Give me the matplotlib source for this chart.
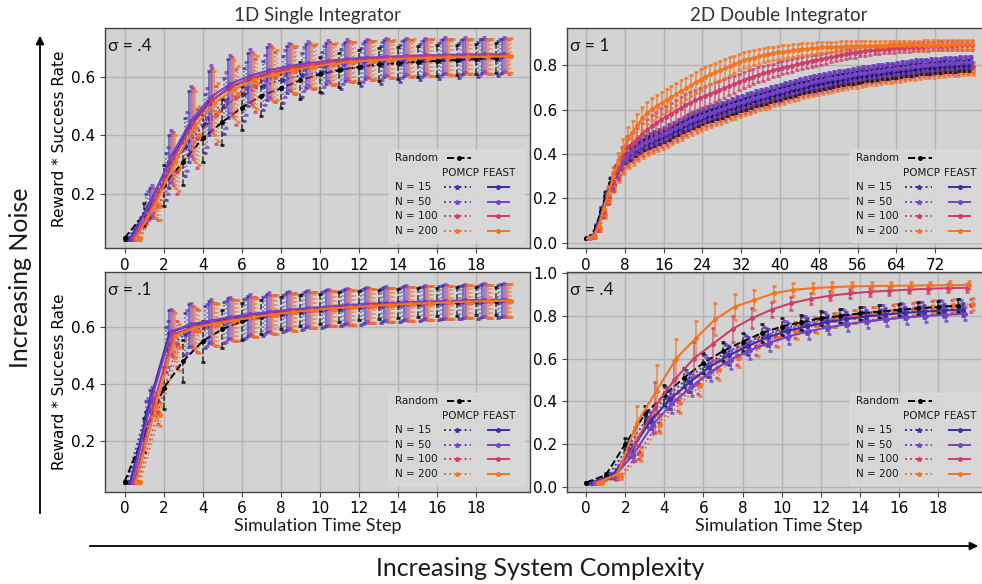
import numpy as np
import matplotlib
matplotlib.use("Agg")
import matplotlib.pyplot as plt
from matplotlib.patches import FancyArrowPatch
from matplotlib.offsetbox import DrawingArea, AnchoredOffsetbox
from matplotlib.lines import Line2D
from matplotlib.text import Text

# ── time axes ────────────────────────────────────────────────────────────────
STEPS_SHORT = np.arange(20)
STEPS_LONG = np.arange(80)
N_VALUES = [15, 50, 100, 200]

# ── 1D single integrator, sigma = .4 ─────────────────────────────────────────
si04_random = [0.05, 0.13, 0.23, 0.31, 0.39, 0.445, 0.495, 0.535, 0.56, 0.588,
               0.608, 0.622, 0.634, 0.642, 0.647, 0.651, 0.654, 0.657, 0.66, 0.663]
si04_pomcp = {
    15:  [0.05, 0.15, 0.26, 0.36, 0.44, 0.50, 0.54, 0.57, 0.59, 0.605,
          0.615, 0.625, 0.633, 0.64, 0.645, 0.65, 0.653, 0.656, 0.659, 0.661],
    50:  [0.05, 0.16, 0.28, 0.38, 0.46, 0.52, 0.56, 0.59, 0.61, 0.625,
          0.635, 0.643, 0.649, 0.654, 0.658, 0.661, 0.663, 0.665, 0.667, 0.668],
    100: [0.05, 0.16, 0.28, 0.39, 0.47, 0.53, 0.57, 0.60, 0.62, 0.633,
          0.642, 0.65, 0.655, 0.659, 0.662, 0.665, 0.667, 0.668, 0.669, 0.67],
    200: [0.05, 0.16, 0.29, 0.40, 0.48, 0.54, 0.58, 0.605, 0.623, 0.636,
          0.645, 0.652, 0.657, 0.661, 0.664, 0.666, 0.668, 0.669, 0.67, 0.671],
}
si04_feast = {
    15:  [0.05, 0.17, 0.31, 0.43, 0.51, 0.56, 0.59, 0.61, 0.625, 0.636,
          0.645, 0.652, 0.657, 0.661, 0.664, 0.666, 0.668, 0.669, 0.67, 0.671],
    50:  [0.05, 0.18, 0.33, 0.45, 0.53, 0.575, 0.603, 0.622, 0.636, 0.646,
          0.654, 0.66, 0.665, 0.668, 0.671, 0.673, 0.674, 0.675, 0.676, 0.677],
    100: [0.05, 0.17, 0.32, 0.44, 0.52, 0.566, 0.595, 0.615, 0.63, 0.641,
          0.649, 0.655, 0.66, 0.664, 0.667, 0.669, 0.67, 0.671, 0.672, 0.673],
    200: [0.05, 0.17, 0.31, 0.43, 0.51, 0.558, 0.588, 0.608, 0.623, 0.634,
          0.643, 0.65, 0.655, 0.659, 0.662, 0.664, 0.666, 0.667, 0.668, 0.669],
}
si04_err_random = [0.005, 0.04, 0.07, 0.08, 0.08, 0.078, 0.075, 0.07, 0.066, 0.063,
                   0.06, 0.058, 0.056, 0.055, 0.054, 0.053, 0.053, 0.052, 0.052, 0.052]
si04_err_pomcp = [0.005, 0.05, 0.08, 0.1, 0.1, 0.095, 0.09, 0.085, 0.08, 0.075,
                  0.07, 0.068, 0.066, 0.064, 0.063, 0.062, 0.061, 0.06, 0.06, 0.06]
si04_err_feast = [0.005, 0.05, 0.09, 0.12, 0.11, 0.1, 0.09, 0.09, 0.08, 0.075,
                  0.07, 0.068, 0.065, 0.063, 0.062, 0.06, 0.06, 0.059, 0.058, 0.058]

# ── 1D single integrator, sigma = .1 ─────────────────────────────────────────
si01_random = [0.055, 0.22, 0.385, 0.48, 0.55, 0.593, 0.62, 0.636, 0.649, 0.658,
               0.665, 0.671, 0.676, 0.68, 0.683, 0.686, 0.688, 0.69, 0.691, 0.692]
si01_pomcp = {
    15:  [0.055, 0.3, 0.52, 0.575, 0.6, 0.616, 0.628, 0.638, 0.647, 0.654,
          0.66, 0.665, 0.67, 0.674, 0.678, 0.681, 0.684, 0.686, 0.688, 0.69],
    50:  [0.055, 0.31, 0.54, 0.585, 0.607, 0.621, 0.633, 0.643, 0.651, 0.658,
          0.664, 0.669, 0.673, 0.677, 0.68, 0.683, 0.686, 0.688, 0.69, 0.692],
    100: [0.055, 0.3, 0.54, 0.588, 0.609, 0.623, 0.635, 0.645, 0.653, 0.66,
          0.665, 0.67, 0.674, 0.678, 0.681, 0.684, 0.687, 0.689, 0.691, 0.693],
    200: [0.055, 0.29, 0.53, 0.585, 0.607, 0.622, 0.634, 0.644, 0.652, 0.659,
          0.665, 0.67, 0.674, 0.678, 0.681, 0.684, 0.687, 0.689, 0.691, 0.693],
}
si01_feast = {
    15:  [0.055, 0.34, 0.58, 0.605, 0.618, 0.63, 0.64, 0.65, 0.657, 0.663,
          0.668, 0.673, 0.677, 0.681, 0.684, 0.687, 0.689, 0.691, 0.693, 0.695],
    50:  [0.055, 0.35, 0.585, 0.61, 0.623, 0.635, 0.645, 0.654, 0.661, 0.667,
          0.672, 0.677, 0.681, 0.684, 0.687, 0.69, 0.692, 0.694, 0.696, 0.697],
    100: [0.055, 0.33, 0.575, 0.6, 0.614, 0.626, 0.637, 0.646, 0.654, 0.66,
          0.666, 0.671, 0.675, 0.679, 0.682, 0.685, 0.688, 0.69, 0.692, 0.694],
    200: [0.055, 0.32, 0.57, 0.597, 0.611, 0.623, 0.634, 0.644, 0.652, 0.659,
          0.665, 0.67, 0.674, 0.678, 0.681, 0.684, 0.687, 0.689, 0.691, 0.693],
}
si01_err_random = [0.003, 0.06, 0.075, 0.075, 0.072, 0.068, 0.065, 0.06, 0.057, 0.055,
                   0.053, 0.052, 0.051, 0.05, 0.05, 0.05, 0.05, 0.05, 0.05, 0.05]
si01_err_pomcp = [0.003, 0.04, 0.08, 0.075, 0.075, 0.072, 0.07, 0.068, 0.066, 0.064,
                  0.063, 0.062, 0.061, 0.06, 0.06, 0.059, 0.059, 0.058, 0.058, 0.058]
si01_err_feast = [0.003, 0.04, 0.08, 0.075, 0.075, 0.072, 0.07, 0.068, 0.066, 0.064,
                  0.063, 0.062, 0.061, 0.06, 0.06, 0.059, 0.059, 0.058, 0.058, 0.058]

# ── 2D double integrator, sigma = 1 (80 steps) ───────────────────────────────
di1_random = [
    0.02, 0.03, 0.07, 0.14, 0.21, 0.27, 0.318, 0.357, 0.385, 0.4,
    0.415, 0.43, 0.443, 0.453, 0.462, 0.471, 0.48, 0.491, 0.502, 0.513,
    0.524, 0.533, 0.543, 0.552, 0.561, 0.569, 0.576, 0.583, 0.59, 0.598,
    0.605, 0.612, 0.619, 0.626, 0.633, 0.64, 0.646, 0.652, 0.658, 0.664,
    0.67, 0.676, 0.682, 0.688, 0.693, 0.698, 0.704, 0.709, 0.714, 0.718,
    0.722, 0.726, 0.73, 0.734, 0.738, 0.741, 0.745, 0.748, 0.751, 0.754,
    0.757, 0.76, 0.763, 0.765, 0.768, 0.771, 0.774, 0.777, 0.78, 0.782,
    0.784, 0.785, 0.787, 0.789, 0.79, 0.792, 0.793, 0.795, 0.796, 0.798]
di1_pomcp = {
    15: [0.02, 0.03, 0.075, 0.145, 0.215, 0.275, 0.325, 0.366, 0.398, 0.415,
         0.432, 0.447, 0.46, 0.47, 0.479, 0.488, 0.497, 0.509, 0.52, 0.531,
         0.542, 0.552, 0.562, 0.571, 0.58, 0.588, 0.595, 0.603, 0.61, 0.618,
         0.625, 0.633, 0.64, 0.647, 0.654, 0.661, 0.667, 0.673, 0.68, 0.686,
         0.692, 0.698, 0.704, 0.71, 0.715, 0.72, 0.726, 0.731, 0.736, 0.74,
         0.744, 0.748, 0.752, 0.756, 0.76, 0.763, 0.767, 0.77, 0.773, 0.776,
         0.779, 0.782, 0.785, 0.787, 0.79, 0.793, 0.796, 0.799, 0.802, 0.804,
         0.806, 0.807, 0.809, 0.811, 0.812, 0.814, 0.815, 0.817, 0.818, 0.82],
    50: [0.02, 0.03, 0.072, 0.143, 0.213, 0.273, 0.323, 0.364, 0.395, 0.411,
         0.426, 0.441, 0.454, 0.464, 0.473, 0.482, 0.491, 0.503, 0.514, 0.525,
         0.536, 0.546, 0.556, 0.565, 0.574, 0.582, 0.589, 0.597, 0.604, 0.612,
         0.619, 0.627, 0.634, 0.641, 0.648, 0.655, 0.661, 0.667, 0.674, 0.68,
         0.686, 0.692, 0.698, 0.704, 0.709, 0.714, 0.72, 0.725, 0.73, 0.734,
         0.738, 0.742, 0.746, 0.75, 0.754, 0.757, 0.761, 0.764, 0.767, 0.77,
         0.773, 0.776, 0.779, 0.781, 0.784, 0.787, 0.79, 0.793, 0.796, 0.798,
         0.8, 0.801, 0.803, 0.805, 0.806, 0.808, 0.809, 0.811, 0.812, 0.814],
    100: [0.02, 0.028, 0.065, 0.132, 0.2, 0.258, 0.305, 0.344, 0.373, 0.388,
          0.402, 0.417, 0.43, 0.44, 0.449, 0.458, 0.467, 0.479, 0.49, 0.501,
          0.512, 0.522, 0.532, 0.541, 0.55, 0.558, 0.565, 0.573, 0.58, 0.588,
          0.595, 0.603, 0.61, 0.617, 0.624, 0.631, 0.637, 0.643, 0.65, 0.656,
          0.662, 0.668, 0.674, 0.68, 0.685, 0.69, 0.696, 0.701, 0.706, 0.71,
          0.714, 0.718, 0.722, 0.726, 0.73, 0.733, 0.737, 0.74, 0.743, 0.746,
          0.749, 0.752, 0.755, 0.757, 0.76, 0.763, 0.766, 0.769, 0.772, 0.774,
          0.776, 0.777, 0.779, 0.781, 0.782, 0.784, 0.785, 0.787, 0.788, 0.79],
    200: [0.02, 0.027, 0.062, 0.127, 0.193, 0.25, 0.297, 0.335, 0.364, 0.378,
          0.392, 0.407, 0.42, 0.43, 0.439, 0.448, 0.457, 0.469, 0.48, 0.491,
          0.502, 0.512, 0.522, 0.531, 0.54, 0.548, 0.555, 0.563, 0.57, 0.578,
          0.585, 0.593, 0.6, 0.607, 0.614, 0.621, 0.627, 0.633, 0.64, 0.646,
          0.652, 0.658, 0.664, 0.67, 0.675, 0.68, 0.686, 0.691, 0.696, 0.7,
          0.704, 0.708, 0.712, 0.716, 0.72, 0.723, 0.727, 0.73, 0.733, 0.736,
          0.739, 0.742, 0.745, 0.747, 0.75, 0.753, 0.756, 0.759, 0.762, 0.764,
          0.766, 0.767, 0.769, 0.771, 0.772, 0.774, 0.775, 0.777, 0.778, 0.78],
}
di1_feast = {
    15: [0.02, 0.03, 0.07, 0.14, 0.21, 0.27, 0.32, 0.36, 0.39, 0.405,
         0.42, 0.435, 0.448, 0.458, 0.467, 0.476, 0.485, 0.497, 0.508, 0.519,
         0.53, 0.54, 0.55, 0.559, 0.568, 0.576, 0.583, 0.591, 0.598, 0.606,
         0.613, 0.621, 0.628, 0.635, 0.642, 0.649, 0.655, 0.661, 0.668, 0.674,
         0.68, 0.686, 0.692, 0.698, 0.703, 0.708, 0.714, 0.719, 0.724, 0.728,
         0.732, 0.736, 0.74, 0.744, 0.748, 0.751, 0.755, 0.758, 0.761, 0.764,
         0.767, 0.77, 0.773, 0.775, 0.778, 0.781, 0.784, 0.787, 0.79, 0.792,
         0.794, 0.795, 0.797, 0.799, 0.8, 0.802, 0.803, 0.805, 0.806, 0.808],
    50: [0.02, 0.03, 0.07, 0.14, 0.21, 0.27, 0.32, 0.36, 0.39, 0.41,
         0.425, 0.44, 0.454, 0.465, 0.475, 0.484, 0.493, 0.505, 0.516, 0.527,
         0.538, 0.548, 0.558, 0.567, 0.576, 0.584, 0.591, 0.599, 0.606, 0.614,
         0.621, 0.629, 0.636, 0.643, 0.65, 0.657, 0.663, 0.669, 0.676, 0.682,
         0.688, 0.694, 0.7, 0.706, 0.711, 0.716, 0.722, 0.727, 0.732, 0.736,
         0.74, 0.744, 0.748, 0.752, 0.756, 0.759, 0.763, 0.766, 0.769, 0.772,
         0.775, 0.778, 0.781, 0.783, 0.786, 0.789, 0.792, 0.795, 0.798, 0.8,
         0.802, 0.803, 0.805, 0.807, 0.808, 0.81, 0.811, 0.813, 0.814, 0.816],
    100: [0.02, 0.03, 0.07, 0.14, 0.21, 0.275, 0.33, 0.385, 0.43, 0.447,
          0.466, 0.49, 0.508, 0.524, 0.54, 0.555, 0.568, 0.581, 0.594, 0.607,
          0.62, 0.631, 0.641, 0.651, 0.661, 0.67, 0.679, 0.687, 0.695, 0.705,
          0.714, 0.724, 0.733, 0.741, 0.748, 0.756, 0.763, 0.769, 0.776, 0.782,
          0.788, 0.793, 0.798, 0.803, 0.808, 0.813, 0.818, 0.822, 0.827, 0.831,
          0.836, 0.84, 0.845, 0.849, 0.853, 0.856, 0.86, 0.863, 0.866, 0.868,
          0.871, 0.873, 0.875, 0.876, 0.878, 0.879, 0.88, 0.882, 0.883, 0.884,
          0.885, 0.886, 0.887, 0.887, 0.888, 0.888, 0.889, 0.889, 0.89, 0.89],
    200: [0.02, 0.03, 0.075, 0.15, 0.22, 0.3, 0.36, 0.42, 0.47, 0.5,
          0.53, 0.56, 0.585, 0.601, 0.617, 0.631, 0.643, 0.657, 0.67, 0.683,
          0.695, 0.709, 0.722, 0.735, 0.748, 0.758, 0.767, 0.776, 0.785, 0.795,
          0.804, 0.814, 0.823, 0.829, 0.834, 0.84, 0.845, 0.849, 0.853, 0.857,
          0.86, 0.863, 0.866, 0.869, 0.871, 0.873, 0.876, 0.878, 0.88, 0.881,
          0.882, 0.883, 0.884, 0.885, 0.885, 0.886, 0.886, 0.887, 0.887, 0.888,
          0.888, 0.888, 0.889, 0.889, 0.89, 0.89, 0.89, 0.891, 0.891, 0.892,
          0.892, 0.892, 0.893, 0.893, 0.893, 0.894, 0.894, 0.894, 0.895, 0.895],
}
# FEAST N=100/200 share the wide bars, the rest the narrow ones
di1_err_wide = [
    0.003, 0.005, 0.015, 0.025, 0.035, 0.04, 0.045, 0.048, 0.05, 0.05,
    0.05, 0.05, 0.05, 0.05, 0.05, 0.05, 0.05, 0.05, 0.05, 0.05,
    0.048, 0.048, 0.047, 0.046, 0.045, 0.044, 0.043, 0.042, 0.041, 0.04,
    0.039, 0.038, 0.037, 0.036, 0.035, 0.034, 0.033, 0.032, 0.031, 0.03,
    0.029, 0.028, 0.028, 0.027, 0.027, 0.026, 0.026, 0.025, 0.025, 0.024,
    0.024, 0.023, 0.023, 0.022, 0.022, 0.022, 0.021, 0.021, 0.021, 0.02,
    0.02, 0.02, 0.02, 0.02, 0.02, 0.02, 0.02, 0.02, 0.02, 0.02,
    0.02, 0.02, 0.02, 0.02, 0.02, 0.02, 0.02, 0.02, 0.02, 0.02]
di1_err_narrow = [
    0.003, 0.005, 0.01, 0.015, 0.02, 0.022, 0.024, 0.025, 0.026, 0.026,
    0.026, 0.026, 0.026, 0.026, 0.026, 0.026, 0.026, 0.026, 0.026, 0.026,
    0.026, 0.026, 0.026, 0.026, 0.026, 0.026, 0.026, 0.026, 0.026, 0.026,
    0.026, 0.026, 0.026, 0.026, 0.025, 0.025, 0.025, 0.025, 0.025, 0.025,
    0.025, 0.025, 0.025, 0.025, 0.025, 0.025, 0.025, 0.025, 0.025, 0.025,
    0.024, 0.024, 0.024, 0.024, 0.024, 0.024, 0.024, 0.024, 0.024, 0.024,
    0.024, 0.024, 0.024, 0.024, 0.024, 0.024, 0.024, 0.024, 0.024, 0.024,
    0.023, 0.023, 0.023, 0.023, 0.023, 0.023, 0.023, 0.023, 0.023, 0.023]

# ── 2D double integrator, sigma = .4 ─────────────────────────────────────────
di04_random = [0.02, 0.055, 0.2, 0.34, 0.43, 0.51, 0.58, 0.635, 0.68, 0.72,
               0.75, 0.77, 0.79, 0.80, 0.812, 0.82, 0.828, 0.836, 0.842, 0.848]
di04_pomcp = {
    15:  [0.02, 0.05, 0.18, 0.32, 0.42, 0.50, 0.57, 0.625, 0.67, 0.71,
          0.74, 0.765, 0.785, 0.80, 0.812, 0.822, 0.83, 0.837, 0.843, 0.848],
    50:  [0.02, 0.05, 0.17, 0.31, 0.41, 0.49, 0.56, 0.62, 0.665, 0.705,
          0.737, 0.762, 0.782, 0.798, 0.81, 0.82, 0.828, 0.835, 0.841, 0.846],
    100: [0.02, 0.045, 0.16, 0.30, 0.40, 0.48, 0.555, 0.615, 0.66, 0.70,
          0.735, 0.76, 0.78, 0.797, 0.81, 0.821, 0.83, 0.838, 0.845, 0.85],
    200: [0.02, 0.045, 0.15, 0.29, 0.39, 0.47, 0.545, 0.605, 0.655, 0.695,
          0.73, 0.758, 0.78, 0.798, 0.812, 0.824, 0.834, 0.843, 0.85, 0.856],
}
di04_feast = {
    15:  [0.02, 0.05, 0.17, 0.31, 0.41, 0.49, 0.56, 0.615, 0.66, 0.70,
          0.73, 0.752, 0.77, 0.785, 0.797, 0.806, 0.814, 0.82, 0.825, 0.83],
    50:  [0.02, 0.045, 0.15, 0.29, 0.39, 0.47, 0.54, 0.595, 0.64, 0.675,
          0.705, 0.728, 0.747, 0.762, 0.775, 0.785, 0.793, 0.8, 0.805, 0.81],
    100: [0.02, 0.05, 0.2, 0.37, 0.50, 0.60, 0.67, 0.74, 0.79, 0.83,
          0.86, 0.88, 0.895, 0.905, 0.913, 0.918, 0.923, 0.927, 0.93, 0.932],
    200: [0.02, 0.06, 0.3, 0.45, 0.6, 0.695, 0.784, 0.843, 0.874, 0.906,
          0.922, 0.93, 0.935, 0.938, 0.94, 0.941, 0.942, 0.943, 0.944, 0.945],
}
di04_err_wide = [0.005, 0.02, 0.08, 0.12, 0.09, 0.08, 0.075, 0.06, 0.045, 0.035,
                 0.03, 0.025, 0.022, 0.02, 0.02, 0.02, 0.018, 0.018, 0.018, 0.018]
di04_err_narrow = [0.003, 0.01, 0.03, 0.04, 0.045, 0.045, 0.045, 0.045, 0.042, 0.04,
                   0.038, 0.036, 0.034, 0.032, 0.03, 0.03, 0.03, 0.03, 0.03, 0.03]

# ── styling ──────────────────────────────────────────────────────────────────
COLORS = {15: "#3c2f9f", 50: "#7642c6", 100: "#cd3e6b", 200: "#f47420"}
# horizontal dodge of each series inside one time step
OFFSETS = {"random": 0.0, ("P", 15): 0.1, ("P", 50): 0.2, ("F", 15): 0.3,
           ("F", 50): 0.4, ("F", 100): 0.5, ("F", 200): 0.6,
           ("P", 100): 0.7, ("P", 200): 0.8}
DECO = ["Lato", "DejaVu Sans"]
BG = "#d3d3d3"
PX = 72 / 100  # pixel -> point at dpi 100

plt.rcParams["font.family"] = ["DejaVu Sans"]


def series(ax, x, y, err, color, ls, marker, z, ms=3.0, lw=1.4):
    cont = ax.errorbar(x, y, yerr=err, color=color, ls=ls, lw=lw,
                       marker=marker, ms=ms, elinewidth=1.1, capsize=1.6,
                       capthick=2.0, zorder=z)
    for bars in cont[2]:
        bars.set_linestyle(ls)
        bars.set_alpha(0.75)
    for cap in cont[1]:
        cap.set_alpha(0.8)


def draw_panel(ax, steps, rand, pomcp, feast, e_rand, e_pomcp, e_feast):
    steps = np.asarray(steps, float)
    for n in N_VALUES:
        series(ax, steps + OFFSETS[("P", n)], pomcp[n], e_pomcp[n],
               COLORS[n], ":", "*", 2, ms=3.5, lw=1.3)
    series(ax, steps + OFFSETS["random"], rand, e_rand, "black", "--", "o", 3,
           ms=2.5)
    for n in N_VALUES:
        series(ax, steps + OFFSETS[("F", n)], feast[n], e_feast[n],
               COLORS[n], "-", "o", 4, ms=2.5, lw=1.5)


def add_key(ax):
    w, h = 135, 92
    da = DrawingArea(w * PX, h * PX)
    rows = [84, 69, 55, 40.5, 26, 11]

    def label(x, y, s):
        da.add_artist(Text(x * PX, y * PX, s, fontsize=7.5, ha="left",
                           va="center", color="#1a1a1a"))

    def handle(x0, x1, y, color, ls, marker, ms):
        da.add_artist(Line2D([x0 * PX, x1 * PX], [y * PX, y * PX],
                             color=color, ls=ls, lw=1.4))
        da.add_artist(Line2D([(x0 + x1) / 2 * PX], [y * PX], color=color,
                             marker=marker, ms=ms, ls="none"))

    label(6, rows[0], "Random")
    handle(58, 82, rows[0], "black", "--", "o", 2.5)
    label(53, rows[1], "POMCP")
    label(94, rows[1], "FEAST")
    for n, y in zip(N_VALUES, rows[2:]):
        label(6, y, f"N = {n}")
        handle(55, 82, y, COLORS[n], ":", "*", 3.5)
        handle(99, 120, y, COLORS[n], "-", "o", 2.5)

    box = AnchoredOffsetbox(loc="lower right", child=da, pad=0.0,
                            borderpad=0.45, frameon=True, prop=dict(size=10))
    box.patch.set_boxstyle("round,pad=0,rounding_size=0.25")
    box.patch.set_facecolor("#d8d8d8")
    box.patch.set_edgecolor("#dedede")
    box.patch.set_alpha(0.9)
    box.set_zorder(10)
    ax.add_artist(box)


fig = plt.figure(figsize=(9.82, 5.84), dpi=100)

W, H = 425 / 982, 220 / 584
ax_tl = fig.add_axes([105 / 982, 1 - 248.3 / 584, W, H])
ax_tr = fig.add_axes([566.7 / 982, 1 - 248.3 / 584, W, H])
ax_bl = fig.add_axes([105 / 982, 1 - 491.7 / 584, W, H])
ax_br = fig.add_axes([566.7 / 982, 1 - 491.7 / 584, W, H])

draw_panel(ax_tl, STEPS_SHORT, si04_random, si04_pomcp, si04_feast,
           si04_err_random, {n: si04_err_pomcp for n in N_VALUES},
           {n: si04_err_feast for n in N_VALUES})
draw_panel(ax_bl, STEPS_SHORT, si01_random, si01_pomcp, si01_feast,
           si01_err_random, {n: si01_err_pomcp for n in N_VALUES},
           {n: si01_err_feast for n in N_VALUES})
draw_panel(ax_tr, STEPS_LONG, di1_random, di1_pomcp, di1_feast,
           di1_err_narrow, {n: di1_err_narrow for n in N_VALUES},
           {15: di1_err_narrow, 50: di1_err_narrow,
            100: di1_err_wide, 200: di1_err_wide})
draw_panel(ax_br, STEPS_SHORT, di04_random, di04_pomcp, di04_feast,
           di04_err_narrow, {n: di04_err_narrow for n in N_VALUES},
           {15: di04_err_narrow, 50: di04_err_narrow,
            100: di04_err_wide, 200: di04_err_wide})

limits = {
    ax_tl: ((-1.0, 20.75), (0.015, 0.765), np.arange(0, 19, 2), [0.2, 0.4, 0.6]),
    ax_bl: ((-1.0, 20.75), (0.02, 0.795), np.arange(0, 19, 2), [0.2, 0.4, 0.6]),
    ax_tr: ((-4.0, 83.65), (-0.025, 0.966), np.arange(0, 73, 8),
            [0.0, 0.2, 0.4, 0.6, 0.8]),
    ax_br: ((-1.0, 20.75), (-0.023, 1.007), np.arange(0, 19, 2),
            [0.0, 0.2, 0.4, 0.6, 0.8, 1.0]),
}
for ax, (xl, yl, xt, yt) in limits.items():
    ax.set_facecolor(BG)
    ax.set_xlim(*xl)
    ax.set_ylim(*yl)
    ax.set_xticks(xt)
    ax.set_yticks(yt)
    ax.set_yticklabels([f"{v:.1f}" for v in yt])
    ax.tick_params(labelsize=11, color="#444444", length=3.5)
    ax.grid(True, color="#b3b3b3", lw=1.0)
    ax.set_axisbelow(True)
    for sp in ax.spines.values():
        sp.set_color("#444444")
        sp.set_linewidth(1.0)
    add_key(ax)

for ax, s in [(ax_tl, "σ = .4"), (ax_tr, "σ = 1"), (ax_bl, "σ = .1"),
              (ax_br, "σ = .4")]:
    ax.text(0.008, 0.955, s, transform=ax.transAxes, ha="left", va="top",
            fontsize=12.5, family=DECO, color="#1a1a1a", zorder=12)

ax_tl.set_title("1D Single Integrator", fontsize=13.5, family=DECO,
                color="#333333", pad=5)
ax_tr.set_title("2D Double Integrator", fontsize=13.5, family=DECO,
                color="#333333", pad=5)

for ax in (ax_tl, ax_bl):
    ax.set_ylabel("Reward * Success Rate", fontsize=11, labelpad=3)
for ax in (ax_bl, ax_br):
    ax.set_xlabel("Simulation Time Step", fontsize=13, family=DECO,
                  color="#1a1a1a", labelpad=1)

# outer arrows and their captions
fig.add_artist(FancyArrowPatch((40 / 982, 1 - 516 / 584), (40 / 982, 1 - 33 / 584),
                               transform=fig.transFigure, arrowstyle="-|>",
                               mutation_scale=12, lw=1.3, color="black"))
fig.add_artist(FancyArrowPatch((87 / 982, 1 - 546 / 584), (981 / 982, 1 - 546 / 584),
                               transform=fig.transFigure, arrowstyle="-|>",
                               mutation_scale=12, lw=1.3, color="black"))
fig.text(21 / 982, 1 - 278 / 584, "Increasing Noise", rotation=90,
         ha="center", va="center", fontsize=18, family=DECO, color="#1a1a1a")
fig.text(540 / 982, 1 - 568 / 584, "Increasing System Complexity",
         ha="center", va="center", fontsize=18, family=DECO, color="#1a1a1a")

fig.savefig("out.png", dpi=100)
